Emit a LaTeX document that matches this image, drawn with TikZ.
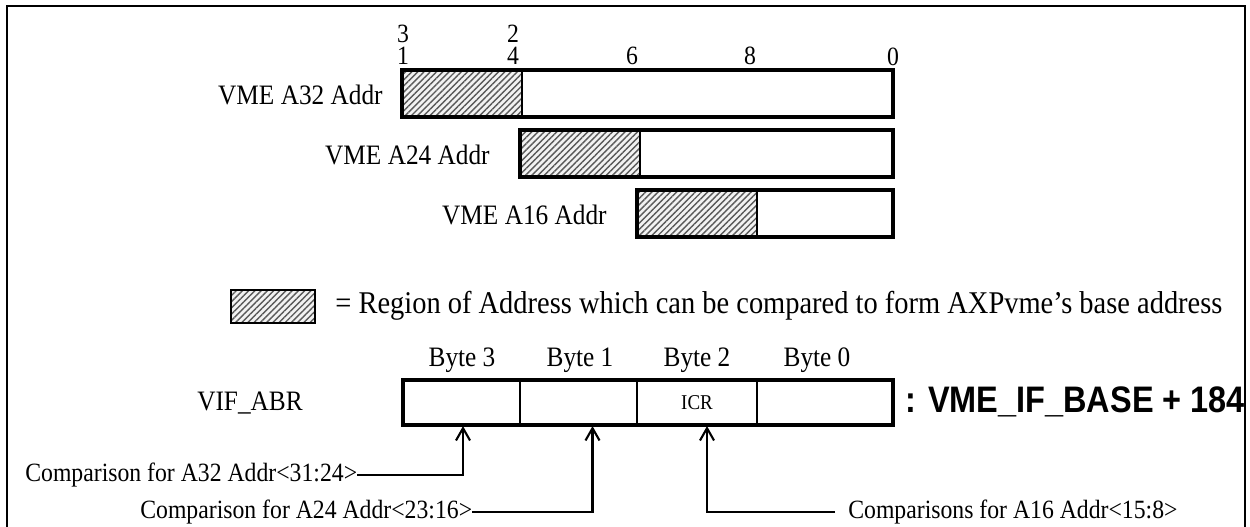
\documentclass[tikz,border=0pt]{standalone}
\usepackage{fontspec}
\setmainfont[FakeStretch=0.9]{Liberation Serif}
\newfontfamily\vmesans[FakeStretch=0.88]{Liberation Sans}
\usetikzlibrary{arrows.meta,patterns.meta,positioning}
\tikzset{
  vmebar/.style={draw,line width=2.8pt},
  vmehatch/.style={fill=gray!10,postaction={pattern={Lines[angle=45,distance=2.5pt,line width=0.8pt]},pattern color=black!65}},
  vmecell/.style={draw,line width=1.2pt,minimum height=0.9cm,inner sep=0pt,font=\fontsize{12}{14}\selectfont},
  vmelabel/.style={font=\fontsize{16}{18}\selectfont,inner sep=0pt},
  vmenote/.style={font=\fontsize{15}{17}\selectfont,inner sep=0pt},
  vmebit/.style={font=\fontsize{15}{12.5}\selectfont,inner sep=0pt,align=center,anchor=south},
  vmeflow/.style={-{Straight Barb[length=7pt,width=8pt,line width=1.2pt]},line width=1.2pt},
}
\begin{document}
\begin{tikzpicture}[x=0.02cm,y=-0.02cm]
\useasboundingbox (0,0) rectangle (1250,527);
% outer frame
\draw[line width=1.6pt] (7,540) |- (1245,6) -- (1245,540);

% bit numbers
\node[vmebit] (n31) at (403,65) {3\\1};
\node[vmebit] (n24) at (513,65) {2\\4};
\node[vmebit] (n16) at (632,65) {6};
\node[vmebit] (n8) at (750,65) {8};
\node[vmebit] (n0) at (893,66) {0};

% address bars
\fill[vmehatch] (402,70) rectangle (522,117);
\draw[vmebar] (402,70) rectangle (893,117);
\draw[line width=1.2pt] (522,70) -- (522,117);
\node[vmelabel,anchor=east] (la32) at (383,95) {VME A32 Addr};

\fill[vmehatch] (520,130) rectangle (640,177);
\draw[vmebar] (520,130) rectangle (893,177);
\draw[line width=1.2pt] (640,130) -- (640,177);
\node[vmelabel,anchor=east] (la24) at (490,155) {VME A24 Addr};

\fill[vmehatch] (637,190) rectangle (757,237);
\draw[vmebar] (637,190) rectangle (893,237);
\draw[line width=1.2pt] (757,190) -- (757,237);
\node[vmelabel,anchor=east] (la16) at (607,215) {VME A16 Addr};

% legend
\fill[vmehatch] (231,290) rectangle (315,323);
\draw[line width=1.4pt] (231,290) rectangle (315,323);
\node[vmelabel,font=\fontsize{18}{20}\selectfont,anchor=west] (key) at (335,306) {= Region of Address which can be compared to form AXPvme's base address};

% VIF_ABR register
\node[vmecell,minimum width=2.34cm] (b3) at (461.5,402.5) {};
\node[vmecell,minimum width=2.34cm] (b1) at (578.5,402.5) {};
\node[vmecell,minimum width=2.4cm] (b2) at (697,402.5) {ICR};
\node[vmecell,minimum width=2.72cm] (b0) at (825,402.5) {};
\draw[vmebar] (403,380) rectangle (893,425);
\node[vmelabel] (t3) at (462,360) {Byte 3};
\node[vmelabel] (t1) at (580,360) {Byte 1};
\node[vmelabel] (t2) at (697,360) {Byte 2};
\node[vmelabel] (t0) at (817,360) {Byte 0};
\node[vmelabel] (reg) at (250,403) {VIF\_ABR};
\node[inner sep=0pt,anchor=west,font=\vmesans\bfseries\fontsize{21}{24}\selectfont] (base) at (905,402) {: VME\_IF\_BASE + 184};

% comparisons
\node[vmenote,anchor=west] (c32) at (25,475) {Comparison for A32 Addr<31:24>};
\node[vmenote,anchor=west] (c24) at (140,512) {Comparison for A24 Addr<23:16>};
\node[vmenote,anchor=west] (c16) at (848,512) {Comparisons for A16 Addr<15:8>};
\draw[vmeflow] (c32.east) -| ([xshift=0.03cm]b3.south);
\draw[vmeflow] (c24.east) -| ([xshift=0.28cm]b1.south);
\draw[vmeflow] ([xshift=-0.26cm]c16.west) -| ([xshift=0.2cm]b2.south);
\end{tikzpicture}
\end{document}
